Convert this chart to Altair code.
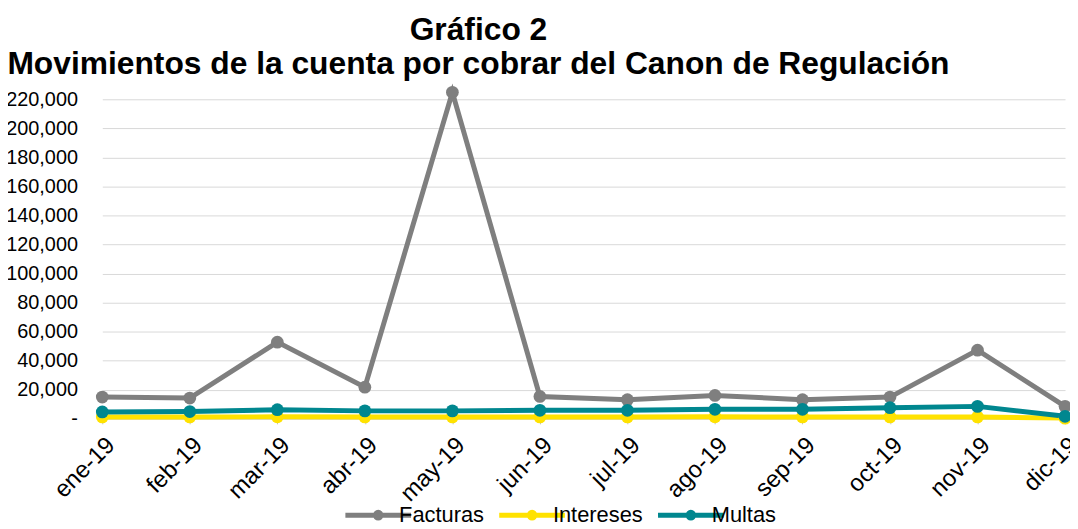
import altair as alt
import pandas as pd

months = ["ene-19", "feb-19", "mar-19", "abr-19", "may-19", "jun-19",
          "jul-19", "ago-19", "sep-19", "oct-19", "nov-19", "dic-19"]
facturas = [15000, 14300, 52800, 21800, 224800, 15400, 13200, 16100, 13200, 15000, 47300, 8600]
intereses = [1300, 1300, 1400, 1300, 1300, 1300, 1300, 1400, 1300, 1300, 1300, 500]
multas = [4800, 5000, 6300, 5500, 5500, 5900, 5900, 6600, 6600, 7700, 8600, 1800]
series = ["Facturas", "Intereses", "Multas"]
colors = ["#7F7F7F", "#FFE200", "#00878F"]

rows = []
for name, vals in zip(series, [facturas, intereses, multas]):
    for m, v in zip(months, vals):
        rows.append({"Mes": m, "Serie": name, "Valor": v})
df = pd.DataFrame(rows)

FONT = "Liberation Sans"
legend_path = "M-2.5,0L2.5,0M-0.22,0A0.22,0.22,0,1,1,0.22,0A0.22,0.22,0,1,1,-0.22,0Z"

chart = alt.Chart(df).mark_line(
    strokeWidth=5,
    point=alt.OverlayMarkDef(filled=True, size=165),
    clip=False,
).encode(
    x=alt.X("Mes:N", sort=months, title=None,
            scale=alt.Scale(type="point", padding=0),
            axis=alt.Axis(labelAngle=-45, labelFontSize=24, labelFont=FONT,
                          labelColor="#000000", labelPadding=9,
                          tickColor="#BFBFBF", tickSize=5,
                          domain=True, domainColor="#D9D9D9", grid=False)),
    y=alt.Y("Valor:Q", title=None,
            scale=alt.Scale(domain=[0, 220000], nice=False),
            axis=alt.Axis(values=list(range(0, 220001, 20000)),
                          labelExpr="datum.value == 0 ? '-' : format(datum.value, ',')",
                          labelFontSize=20, labelFont=FONT, labelColor="#000000",
                          labelPadding=25, ticks=False, domain=False,
                          grid=True, gridColor="#D9D9D9", gridWidth=1)),
    color=alt.Color("Serie:N", title=None,
                    scale=alt.Scale(domain=series, range=colors),
                    legend=alt.Legend(orient="none", legendX=262, legendY=403,
                                      direction="horizontal",
                                      symbolType=legend_path, symbolSize=700,
                                      symbolStrokeWidth=5,
                                      labelFontSize=22, labelFont=FONT,
                                      labelColor="#000000", labelOffset=5,
                                      columnPadding=4)),
).properties(
    width=970,
    height=322,
    title=alt.TitleParams(
        text="Gráfico 2",
        subtitle="Movimientos de la cuenta por cobrar del Canon de Regulación",
        font=FONT, fontSize=32, fontWeight="bold", color="#000000",
        subtitleFont=FONT, subtitleFontSize=32, subtitleFontWeight="bold",
        subtitleColor="#000000", subtitlePadding=3,
        anchor="middle", dx=-106, offset=1,
    ),
    autosize=alt.AutoSizeParams(type="none"),
    padding={"left": 95, "top": 90, "right": 5, "bottom": 109},
).configure_view(stroke=None)

chart.save("out.html", embed_options={"renderer": "svg", "actions": False})
